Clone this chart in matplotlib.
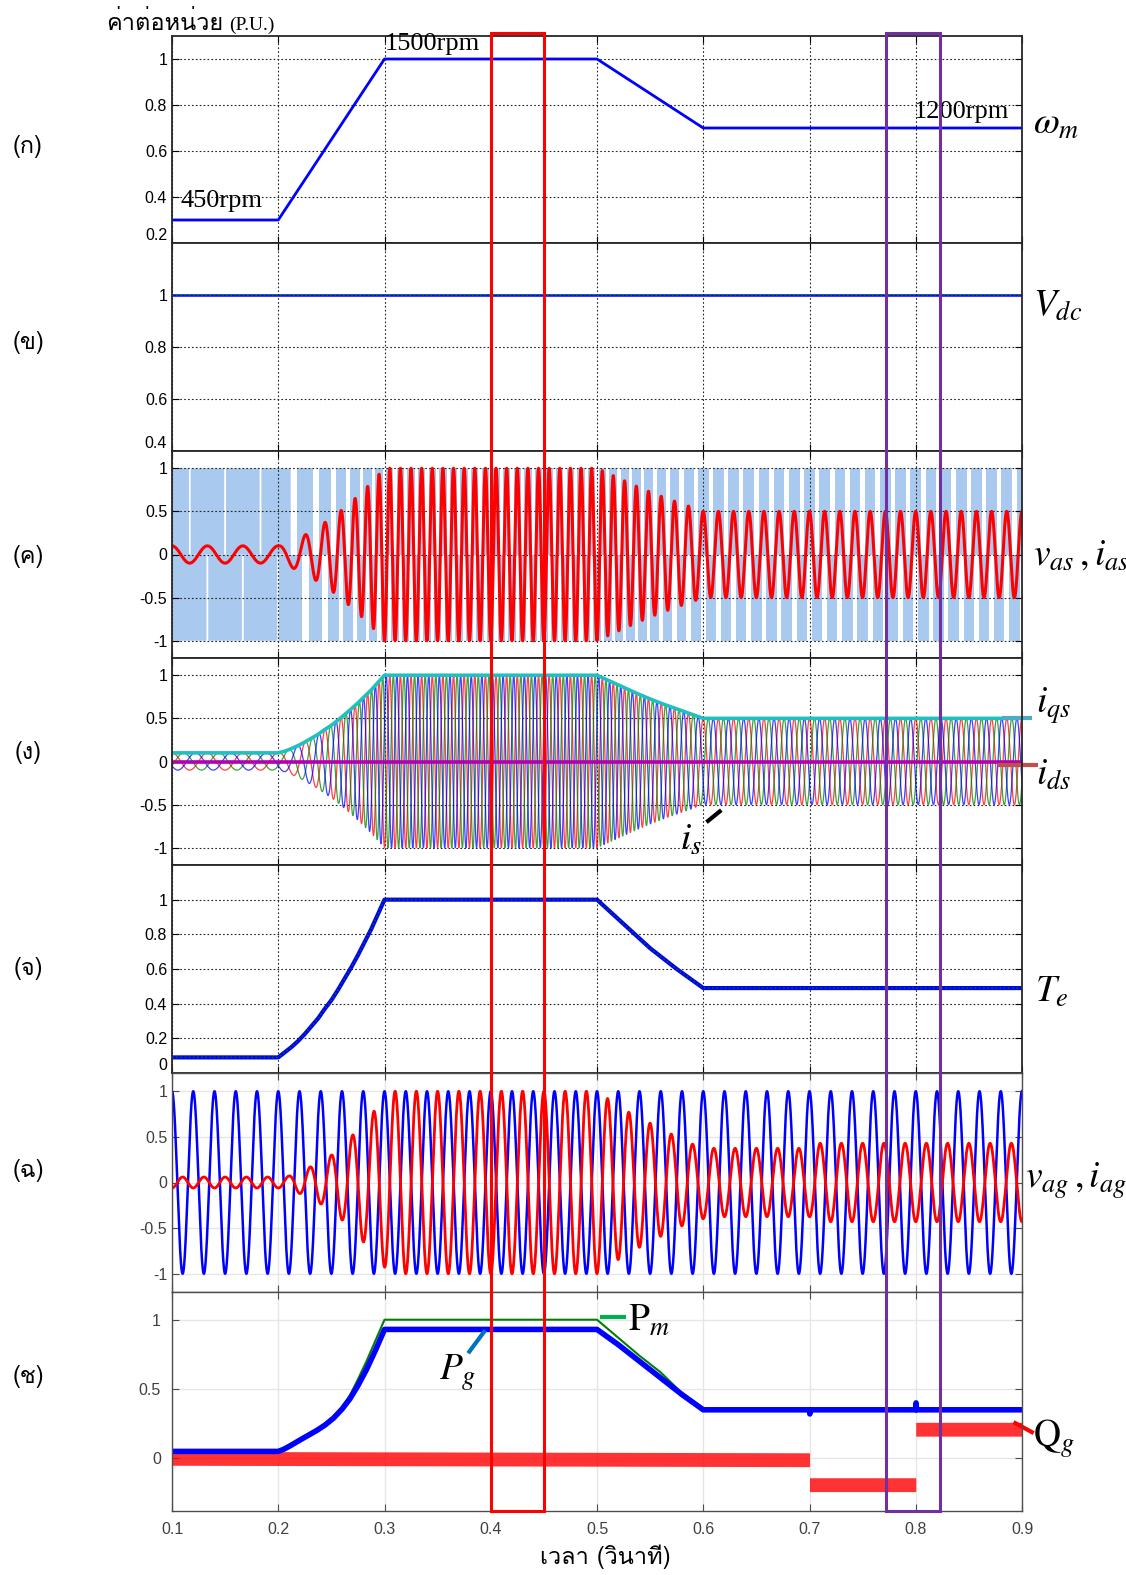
import numpy as np
import matplotlib
matplotlib.use("Agg")
import matplotlib.pyplot as plt
from matplotlib import font_manager
from matplotlib.ft2font import FT2Font
from matplotlib.patches import Rectangle

# look for an installed font that has Thai glyphs
thai_font = "DejaVu Sans"
for f in font_manager.fontManager.ttflist:
    try:
        if 0x0E01 in FT2Font(f.fname).get_charmap():
            thai_font = f.name
            break
    except Exception:
        pass

plt.rcParams['mathtext.fontset'] = 'stix'
plt.rcParams['font.family'] = ['Liberation Sans', 'DejaVu Sans']

# ---------------- data ----------------
t_ticks = [0.1, 0.2, 0.3, 0.4, 0.5, 0.6, 0.7, 0.8, 0.9]
t_labels = ['0.1', '0.2', '0.3', '0.4', '0.5', '0.6', '0.7', '0.8', '0.9']

# (a) rotor speed, p.u.
wm_t = [0.1, 0.2, 0.3, 0.5, 0.6, 0.9]
wm_v = [0.3, 0.3, 1.0, 1.0, 0.7, 0.7]

# (b) dc link voltage
vdc_t = [0.1, 0.9]
vdc_v = [1.0, 1.0]

# (d),(e) torque and i_qs envelope
te_t = [0.1, 0.2, 0.20625, 0.2125, 0.21875, 0.225, 0.23125, 0.2375, 0.24375,
        0.25, 0.25625, 0.2625, 0.26875, 0.275, 0.28125, 0.2875, 0.29375, 0.3,
        0.5, 0.5125, 0.525, 0.5375, 0.55, 0.5625, 0.575, 0.5875, 0.6, 0.9]
te_v = [0.09, 0.09, 0.12, 0.15, 0.185, 0.225, 0.27, 0.315, 0.37,
        0.42, 0.48, 0.545, 0.61, 0.68, 0.755, 0.83, 0.915, 1.0,
        1.0, 0.93, 0.86, 0.79, 0.72, 0.66, 0.60, 0.545, 0.49, 0.49]
iqs_v = [0.10, 0.10, 0.12, 0.15, 0.185, 0.225, 0.27, 0.315, 0.37,
         0.42, 0.48, 0.545, 0.61, 0.68, 0.755, 0.83, 0.915, 1.0,
         1.0, 0.93, 0.86, 0.79, 0.725, 0.665, 0.61, 0.555, 0.50, 0.50]
ids_t = [0.1, 0.9]
ids_v = [0.0, 0.0]

# stator frequency at 1 p.u. speed (Hz), pwm gap fraction
fs_rated = 100.0
gap_t = [0.1, 0.2, 0.22, 0.9]
gap_v = [0.05, 0.05, 0.3, 0.3]

# (f) grid side voltage / current
f_grid = 50.0
iag_t = [0.1, 0.2, 0.21, 0.23, 0.25, 0.27, 0.29, 0.305, 0.5, 0.51, 0.53, 0.55,
         0.57, 0.59, 0.61, 0.7, 0.71, 0.9]
iag_v = [0.06, 0.06, 0.07, 0.17, 0.30, 0.52, 0.78, 1.0, 1.0, 0.92, 0.77, 0.65,
         0.53, 0.42, 0.375, 0.375, 0.43, 0.43]

# (g) powers
pm_t = [0.1, 0.2, 0.21, 0.22, 0.236, 0.252, 0.26, 0.2675, 0.275, 0.283, 0.2915, 0.3,
        0.5, 0.52, 0.54, 0.56, 0.58, 0.6, 0.9]
pm_v = [0.05, 0.05, 0.085, 0.13, 0.20, 0.29, 0.37, 0.455, 0.57, 0.70, 0.85, 1.0,
        1.0, 0.87, 0.74, 0.62, 0.47, 0.36, 0.36]
pg_t = [0.1, 0.2, 0.205, 0.21, 0.22, 0.228, 0.236, 0.244, 0.252, 0.26, 0.2675,
        0.275, 0.283, 0.2915, 0.3,
        0.5, 0.51, 0.52, 0.53, 0.54, 0.55, 0.56, 0.57, 0.58, 0.59, 0.6,
        0.7, 0.7003, 0.7008, 0.8, 0.8003, 0.8008, 0.9]
pg_v = [0.05, 0.05, 0.065, 0.085, 0.13, 0.165, 0.20, 0.24, 0.29, 0.355, 0.43,
        0.525, 0.64, 0.78, 0.93,
        0.93, 0.875, 0.82, 0.76, 0.70, 0.64, 0.58, 0.52, 0.46, 0.405, 0.35,
        0.35, 0.32, 0.35, 0.35, 0.40, 0.35, 0.35]
qg_t = [0.1, 0.7, 0.7, 0.8, 0.8, 0.9]
qg_v = [0.0, -0.01, -0.19, -0.19, 0.21, 0.21]
qg_band = 0.05

# ---------------- waveforms ----------------
t = np.linspace(0.1, 0.9, 16001)
dt = t[1] - t[0]
wm = np.interp(t, wm_t, wm_v)
theta = 2 * np.pi * np.cumsum(fs_rated * wm) * dt
amp = np.interp(t, te_t, iqs_v)
ia = amp * np.cos(theta)
ib = amp * np.cos(theta - 2 * np.pi / 3)
ic = amp * np.cos(theta + 2 * np.pi / 3)
gapc = np.cos(np.pi * np.interp(t, gap_t, gap_v))
pwm_up = np.cos(theta) > -gapc
pwm_dn = np.cos(theta) < gapc
grid_ph = 2 * np.pi * f_grid * (t - 0.1)
vag = np.cos(grid_ph)
iag = -np.interp(t, iag_t, iag_v) * np.cos(grid_ph)
qg_v = np.array(qg_v)

# ---------------- figure ----------------
W, H = 1126, 1575
fig = plt.figure(figsize=(W / 100, H / 100), dpi=100)
left, right = 172, 1022
edges = [36, 243, 451, 658, 865, 1073, 1292, 1511]
axes = []
for k in range(7):
    ax = fig.add_axes([left / W, 1 - edges[k + 1] / H, (right - left) / W,
                       (edges[k + 1] - edges[k]) / H])
    axes.append(ax)
ax1, ax2, ax3, ax4, ax5, ax6, ax7 = axes


def style(ax, yticks, ylim, new=False):
    ax.set_xlim(0.1, 0.9)
    ax.set_ylim(*ylim)
    ax.set_xticks(t_ticks)
    ax.set_xticklabels(t_labels)
    ax.set_yticks(yticks)
    ax.set_yticklabels(['%g' % v for v in yticks])
    if new:
        ax.grid(True, ls='-', color='#e6e6e6', lw=1.0)
        ax.set_axisbelow(True)
        ax.tick_params(direction='in', top=True, right=True, length=5,
                       labelsize=11.5, color='#4d4d4d', labelcolor='#404040',
                       labelbottom=False)
        for s in ax.spines.values():
            s.set_color('#4d4d4d')
            s.set_linewidth(1.0)
    else:
        ax.grid(True, ls=(0, (1.5, 2)), color='#222222', lw=0.8)
        ax.tick_params(direction='in', top=True, right=True, length=5,
                       labelsize=11.5, labelbottom=False)
        for s in ax.spines.values():
            s.set_color('#262626')
            s.set_linewidth(1.3)
    # a label sitting on the lower edge is lifted into the panel
    if yticks[0] == ylim[0]:
        ax.get_yticklabels()[0].set_va('bottom')


style(ax1, [0.2, 0.4, 0.6, 0.8, 1], (0.2, 1.1))
style(ax2, [0.4, 0.6, 0.8, 1], (0.4, 1.2))
style(ax3, [-1, -0.5, 0, 0.5, 1], (-1.2, 1.2))
style(ax4, [-1, -0.5, 0, 0.5, 1], (-1.2, 1.2))
style(ax5, [0, 0.2, 0.4, 0.6, 0.8, 1], (0, 1.2))
style(ax6, [-1, -0.5, 0, 0.5, 1], (-1.2, 1.2), new=True)
style(ax7, [0, 0.5, 1], (-0.38, 1.2), new=True)
ax7.tick_params(labelbottom=True, pad=8)

serif = 'Liberation Serif'
big = 27

# (a) speed
ax1.plot(wm_t, wm_v, color='#0000ff', lw=2)
ax1.text(0.108, 0.382, '450rpm', family=serif, fontsize=19, va='center')
ax1.text(0.300, 1.065, '1500rpm', family=serif, fontsize=19, va='center')
ax1.text(0.798, 0.770, '1200rpm', family=serif, fontsize=19, va='center')
ax1.text(0.91, 0.72, r'$\omega_m$', fontsize=big, va='center', clip_on=False)

# (b) dc voltage
ax2.plot(vdc_t, vdc_v, color='#0000ff', lw=1.8)
ax2.plot(vdc_t, vdc_v, color='#008000', lw=1.2, ls=(0, (1, 1.5)))
ax2.text(0.91, 0.96, r'$V_{dc}$', fontsize=big, va='center', clip_on=False)

# (c) phase voltage (pwm) and current
pwm_c = '#a9c9ef'
ax3.fill_between(t, 0, 1, where=pwm_up, color=pwm_c, lw=0)
ax3.fill_between(t, -1, 0, where=pwm_dn, color=pwm_c, lw=0)
ax3.plot(t, ia, color='#ff0000', lw=2.2)
ax3.text(0.91, 0.0, r'$v_{as}\,, i_{as}$', fontsize=big, va='center', clip_on=False)

# (d) stator currents
ax4.plot(t, ia, color='#ff0000', lw=0.9, alpha=0.75)
ax4.plot(t, ib, color='#008000', lw=0.9, alpha=0.75)
ax4.plot(t, ic, color='#0000ff', lw=0.9, alpha=0.75)
ax4.plot(te_t, iqs_v, color='#20c0c0', lw=2.6)
ax4.plot(ids_t, ids_v, color='#b000b0', lw=2.6)
ax4.plot([0.881, 0.909], [0.5, 0.5], color='#4bacc6', lw=3, clip_on=False,
         solid_capstyle='butt')
ax4.plot([0.877, 0.915], [-0.035, -0.035], color='#c0504d', lw=3, clip_on=False,
         solid_capstyle='butt')
ax4.plot([0.603, 0.617], [-0.704, -0.564], color='black', lw=3,
         solid_capstyle='butt')
ax4.text(0.913, 0.65, r'$i_{qs}$', fontsize=big, va='center', clip_on=False)
ax4.text(0.913, -0.15, r'$i_{ds}$', fontsize=big, va='center', clip_on=False)
ax4.text(0.578, -0.91, r'$i_s$', fontsize=big, va='center', clip_on=False)

# (e) torque
ax5.plot(te_t, te_v, color='#0000ff', lw=3)
ax5.plot(te_t, te_v, color='#006400', lw=1.2, ls=(0, (1, 1.5)))
ax5.text(0.912, 0.47, r'$T_e$', fontsize=big, va='center', clip_on=False)

# (f) grid voltage and current
ax6.plot(t, vag, color='#0000ff', lw=1.8)
ax6.plot(t, iag, color='#ff0000', lw=2)
ax6.text(0.9025, 0.015, r'$v_{ag}\,, i_{ag}$', fontsize=big, va='center',
         clip_on=False)

# (g) powers
ax7.fill_between(qg_t, qg_v - qg_band, qg_v + qg_band, color='#ff0000',
                 alpha=0.8, lw=0)
ax7.plot(pm_t, pm_v, color='#008000', lw=1.5)
ax7.plot(pg_t, pg_v, color='#0000ff', lw=4)
ax7.plot([0.5028, 0.5273], [1.021, 1.021], color='#00b050', lw=3,
         solid_capstyle='butt')
ax7.plot([0.3787, 0.3948], [0.758, 0.924], color='#0070c0', lw=3,
         solid_capstyle='butt')
ax7.plot([0.892, 0.911], [0.261, 0.182], color='#ff0000', lw=3,
         solid_capstyle='butt', clip_on=False)
ax7.text(0.529, 0.995, r'$\mathrm{P}_m$', fontsize=big, va='center')
ax7.text(0.351, 0.614, r'$P_g$', fontsize=big, va='center')
ax7.text(0.91, 0.142, r'$\mathrm{Q}_g$', fontsize=big, va='center', clip_on=False)

# panel tags
tags = ['(ก)', '(ข)', '(ค)', '(ง)', '(จ)', '(ฉ)', '(ช)']
tag_y = [146, 342, 556, 752, 969, 1170, 1376]
for s, y in zip(tags, tag_y):
    fig.text(28 / W, 1 - y / H, s, family=[thai_font, serif], fontsize=17,
             ha='center', va='center')

ylab = fig.text(106 / W, 1 - 23 / H, 'ค่าต่อหน่วย', family=[thai_font, serif],
                fontsize=17, ha='left', va='center')
ax1.annotate('(P.U.)', xy=(1, 0), xycoords=ylab, xytext=(4, 1),
             textcoords='offset points', family=serif, fontsize=14,
             ha='left', va='bottom', annotation_clip=False)
fig.text(605 / W, 1 - 1557 / H, 'เวลา (วินาที)', family=[thai_font, serif],
         fontsize=17, ha='center', va='center')

# highlight windows across all panels
inv = fig.transFigure.inverted()
y_bot = inv.transform(ax7.transAxes.transform((0, 0)))[1]
y_top = inv.transform(ax1.transAxes.transform((0, 1)))[1] + 3 / H
for x0, x1, col in [(0.4, 0.45, '#ff0000'), (0.772, 0.823, '#7030a0')]:
    fx0 = inv.transform(ax7.transData.transform((x0, 0)))[0]
    fx1 = inv.transform(ax7.transData.transform((x1, 0)))[0]
    fig.add_artist(Rectangle((fx0, y_bot), fx1 - fx0, y_top - y_bot,
                             transform=fig.transFigure, fill=False,
                             edgecolor=col, lw=2.2, zorder=10))

plt.savefig('out.png', dpi=100)
